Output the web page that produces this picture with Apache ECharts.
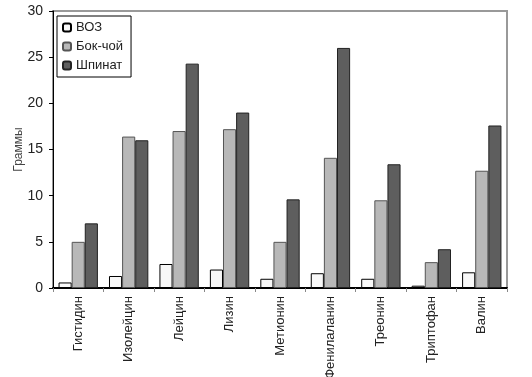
<!DOCTYPE html>
<html>
<head>
<meta charset="utf-8">
<script src="https://cdn.jsdelivr.net/npm/echarts@6/dist/echarts.min.js"></script>
<style>
  html, body { margin: 0; padding: 0; background: #fff; }
  #chart { width: 532px; height: 377px; }
</style>
</head>
<body>
<div id="chart"></div>
<script>
var categories = ["Гистидин", "Изолейцин", "Лейцин", "Лизин", "Метионин", "Фенилаланин", "Треонин", "Триптофан", "Валин"];
var who = [0.6, 1.3, 2.6, 2.0, 1.0, 1.6, 1.0, 0.25, 1.7];
var bokChoy = [5.0, 16.4, 17.0, 17.2, 5.0, 14.1, 9.5, 2.8, 12.7];
var spinach = [7.0, 16.0, 24.3, 19.0, 9.6, 26.0, 13.4, 4.2, 17.6];

var chartDom = document.getElementById("chart");
var myChart = echarts.init(chartDom);

var font = "'Liberation Sans', Arial, sans-serif";

var option = {
  animation: false,
  textStyle: { fontFamily: font },
  grid: {
    left: 53,
    right: 25,
    top: 11,
    bottom: 89,
    outerBoundsMode: "none",
    containLabel: false,
    show: true,
    borderColor: "#999",
    borderWidth: 2,
  },
  legend: {
    orient: "vertical",
    left: 57,
    top: 16,
    padding: [5, 8, 5, 5],
    itemGap: 6,
    itemWidth: 8,
    itemHeight: 8,
    borderColor: "#000",
    borderWidth: 1,
    backgroundColor: "#fff",
    textStyle: { fontSize: 13, color: "#222", fontFamily: font },
    data: ["ВОЗ", "Бок-чой", "Шпинат"],
  },
  xAxis: {
    type: "category",
    data: categories,
    axisLine: { lineStyle: { color: "#000", width: 2 } },
    axisTick: { show: true, length: 4, lineStyle: { color: "#888" } },
    axisLabel: {
      rotate: 90,
      fontSize: 13,
      color: "#222",
      margin: 8,
      fontFamily: font,
    },
  },
  yAxis: {
    type: "value",
    min: 0,
    max: 30,
    interval: 5,
    name: "Граммы",
    nameLocation: "middle",
    nameGap: 28,
    nameMoveOverlap: false,
    nameTextStyle: { fontSize: 12, color: "#444", fontFamily: font },
    splitLine: { show: false },
    axisLine: { show: true, lineStyle: { color: "#000", width: 1 } },
    axisTick: { show: true, length: 4, lineStyle: { color: "#000" } },
    axisLabel: { fontSize: 14, color: "#222", margin: 10, fontFamily: font },
  },
  series: [
    {
      name: "ВОЗ",
      type: "bar",
      data: who,
      barGap: "0%",
      barCategoryGap: "22%",
      itemStyle: { color: "#f8f8f8", borderColor: "#000", borderWidth: 1 },
    },
    {
      name: "Бок-чой",
      type: "bar",
      data: bokChoy,
      barGap: "0%",
      barCategoryGap: "22%",
      itemStyle: { color: "#b8b8b8", borderColor: "#555", borderWidth: 1 },
    },
    {
      name: "Шпинат",
      type: "bar",
      data: spinach,
      barGap: "0%",
      barCategoryGap: "22%",
      itemStyle: { color: "#5e5e5e", borderColor: "#222", borderWidth: 1 },
    },
  ],
};

option && myChart.setOption(option);
</script>
</body>
</html>
